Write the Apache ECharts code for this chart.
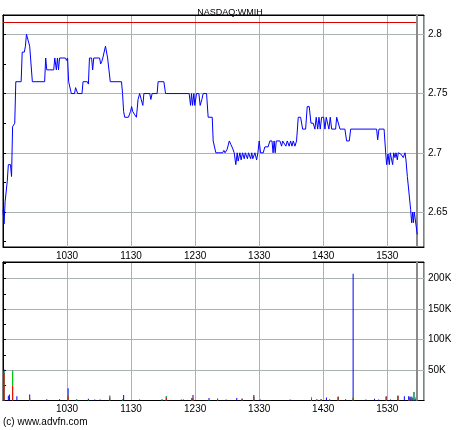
<!DOCTYPE html>
<html><head><meta charset="utf-8">
<script src="https://cdn.jsdelivr.net/npm/echarts@6/dist/echarts.min.js"></script>
<style>html,body{margin:0;padding:0;background:#fff}#c{width:460px;height:430px}</style>
</head><body><div id="c"></div>
<script>
// minutes after the 09:30 open
const priceMinutes = [
 0,1,2,4,5,7,8,9,11,12,
 17,18,20,21,22,23.5,25,26.5,27.5,39,
 40,41,47.5,48.5,50,51,52,53,58.5,59.5,
 60.5,61.5,63,64,67,68,69,70,74,75,
 79,80,81,83,84,85,90.5,91.5,92.5,93.5,
 95,96,97,98,99.5,100.5,111,112,113,114,
 117.5,119.5,120.5,121.5,123.5,125,126.5,128,129.5,131,
 132,137.5,138.5,139.7,144.4,145.3,150.7,152.3,174.4,175.7,
 176.6,177.6,178.8,179.7,181.3,183.5,184.7,186.3,187.5,190.7,
 192.2,196,196.9,198.5,199.4,205.7,206.9,208,210,212,
 213.5,215,216.6,218.1,219.4,220.3,221.9,223.1,224.4,226,
 227,229,230,232,233,234,236,237.6,238.8,240,
 241.3,243.8,245.3,248.4,250,252,253,254,255,256,
 259.4,261,262,263.8,265,266.3,268.1,269.4,270.7,271.9,
 273.5,275,276.6,278.8,280.7,283.5,285,286.9,288.5,290.6,
 292.2,293.4,294.8,296,297.2,298.5,300.4,301.6,302.8,304.1,
 305.3,306.6,307.9,311.6,312.6,314,315.7,320.3,321.9,324.4,
 325.7,350,351,352.2,357,358.5,359.4,360.7,361.9,362.8,
 364,365,366,367.2,368.2,369.4,370.3,372.6,373.5,375,
 376.6,377.5,378.8,380,381.9,382.8,383.8,384.4,385.3,386.6,
 388.1
];
const prices = [
 2.652,2.64,2.659,2.676,2.69,2.69,2.68,2.722,2.725,2.76,
 2.76,2.785,2.785,2.79,2.80,2.80,2.79,2.79,2.76,2.76,
 2.78,2.77,2.77,2.78,2.77,2.78,2.77,2.78,2.78,2.778,
 2.78,2.76,2.76,2.75,2.75,2.755,2.755,2.75,2.75,2.76,
 2.76,2.758,2.78,2.78,2.77,2.78,2.78,2.775,2.777,2.78,
 2.78,2.79,2.79,2.78,2.78,2.76,2.76,2.75,2.735,2.73,
 2.73,2.735,2.739,2.735,2.732,2.73,2.745,2.75,2.745,2.74,
 2.75,2.75,2.745,2.75,2.75,2.76,2.76,2.75,2.75,2.74,
 2.75,2.74,2.75,2.74,2.75,2.75,2.74,2.745,2.75,2.75,
 2.73,2.73,2.71,2.71,2.70,2.70,2.702,2.70,2.703,2.71,
 2.707,2.704,2.70,2.69,2.70,2.693,2.70,2.694,2.70,2.695,
 2.70,2.695,2.70,2.695,2.70,2.695,2.70,2.694,2.70,2.71,
 2.70,2.70,2.705,2.705,2.71,2.71,2.70,2.71,2.70,2.71,
 2.71,2.7056,2.71,2.71,2.7056,2.71,2.7056,2.71,2.7056,2.71,
 2.7056,2.71,2.73,2.73,2.72,2.72,2.739,2.739,2.725,2.725,
 2.72,2.73,2.72,2.73,2.72,2.73,2.73,2.72,2.73,2.73,
 2.72,2.73,2.72,2.72,2.73,2.73,2.72,2.72,2.71,2.71,
 2.72,2.72,2.711,2.72,2.72,2.70,2.69,2.699,2.69,2.70,
 2.70,2.69,2.70,2.696,2.70,2.694,2.70,2.699,2.70,2.696,
 2.70,2.694,2.68,2.68,2.652,2.641,2.65,2.641,2.65,2.65,
 2.631
];
const prevClose = 2.81;
const lastTradeMinute = 387.6;

const volMinutes = [
 1,5,6,9,13,25,41,53,61,69,
 80,86,91,100,112,113,128,149,153,167,
 169,177,178,193,201,209,219,224,235,241,
 269,289,294,298,303,306,314,321,328,340,
 348,352,359,363,370,376,380,381,382,383,
 384,385,386,387,388
];
const volRedK = [
 45,0,0,24,0,4,0,0,8,0,
 0,0,0,4,0,0,0,0,5,0,
 0,4,3,0,3,0,0,3,6,0,
 0,3,1.5,2,0,0,6,0,4,0,
 0,0,6,0,8,0,2,4,0,3,
 0,0,0,2,0
];
const volGreenK = [
 4,0,0,25,0,0,0,0,2,2,
 1,0,0,4,1.5,0,0,2,2,0,
 0,0,0,2,0,0,0,0,0,0,
 0,2,0,0,0,2,0,0,3,0,
 0,0,0,0,0,0,0,2,0,3,
 0,14,0,3,0
];
const volBlueK = [
 2,8,10,0,7,6,2,2,10,0,
 2,1.5,1.5,0,0,9,1.5,0,0,1.5,
 1.5,0,6,2,0,1.5,4,0,3,1.5,
 1.5,0,0,0,5,0,0,2,201,1.5,
 3,1.5,1,1.5,0,7,5,0,6,0,
 4,0,3,0,2
];
const xTickLabels = ['1030','1130','1230','1330','1430','1530'];
const volTickLabels = ['50K','100K','150K','200K'];

const FONT = '"Liberation Sans Narrow","Liberation Sans",Arial,sans-serif';
const GRIDC = '#aab2b2';

const priceData = priceMinutes.map((m, i) => [m, prices[i]]);
const redData = volMinutes.map((m, i) => [m, volRedK[i] * 1000]);
const greenData = volMinutes.map((m, i) => [m, (volRedK[i] + volGreenK[i]) * 1000]);
const totalData = volMinutes.map((m, i) => [m, (volRedK[i] + volGreenK[i] + volBlueK[i]) * 1000]);

const xMax = 394.4;
function xAxisBottom(gi) {
  return {
    type: 'value', gridIndex: gi, min: 0, max: xMax, interval: 60, position: 'bottom',
    axisLine: { show: true, onZero: false, lineStyle: { color: '#000', width: 1 } },
    axisTick: { show: false },
    splitLine: { show: true, lineStyle: { color: GRIDC, width: 1 } },
    axisLabel: {
      show: true, showMinLabel: false, showMaxLabel: false, margin: 4,
      fontFamily: FONT, fontSize: 10, color: '#000',
      formatter: v => xTickLabels[Math.round(v / 60) - 1] || ''
    }
  };
}
function xAxisTop(gi) {
  return {
    type: 'value', gridIndex: gi, min: 0, max: xMax, position: 'top',
    axisLine: { show: true, onZero: false, lineStyle: { color: '#000', width: 1 } },
    axisTick: { show: false }, splitLine: { show: false }, axisLabel: { show: false }
  };
}

const chart = echarts.init(document.getElementById('c'), null, { renderer: 'canvas' });
chart.setOption({
  animation: false,
  backgroundColor: '#fff',
  title: {
    text: 'NASDAQ:WMIH', left: 'center', top: 3,
    textStyle: { fontFamily: '"Liberation Sans",Arial,sans-serif', fontSize: 9, fontWeight: 'normal', color: '#000' }
  },
  graphic: [{
    type: 'text', left: 3, top: 417,
    style: { text: '(c) www.advfn.com', fill: '#000', font: '10px "Liberation Sans", Arial, sans-serif' }
  }],
  grid: [
    { left: 3, top: 15, width: 421, height: 232, show: true, borderColor: '#000', borderWidth: 1, backgroundColor: '#fff' },
    { left: 3, top: 262, width: 421, height: 138.5, show: true, borderColor: '#000', borderWidth: 1, backgroundColor: '#fff' }
  ],
  xAxis: [xAxisBottom(0), xAxisTop(0), xAxisBottom(1), xAxisTop(1)],
  yAxis: [
    { // price right
      type: 'value', gridIndex: 0, position: 'right', min: 2.6205, max: 2.8163,
      splitNumber: 4, minInterval: 0.05, maxInterval: 0.05,
      axisLine: { show: true, lineStyle: { color: '#000' } },
      axisTick: { show: true, length: 3, lineStyle: { color: '#000' } },
      minorTick: { show: true, splitNumber: 2, length: 3, lineStyle: { color: '#000' } },
      splitLine: { show: true, lineStyle: { color: GRIDC, width: 1 } },
      axisLabel: { showMinLabel: false, showMaxLabel: false, margin: 4, fontFamily: FONT, fontSize: 10, color: '#000' }
    },
    { // price left (inner ticks)
      type: 'value', gridIndex: 0, position: 'left', min: 2.6205, max: 2.8163,
      splitNumber: 4, minInterval: 0.05, maxInterval: 0.05,
      axisLine: { show: true, lineStyle: { color: '#000' } },
      axisTick: { show: true, inside: true, length: 2, lineStyle: { color: '#000' } },
      minorTick: { show: true, splitNumber: 2, length: 2, lineStyle: { color: '#000' } },
      splitLine: { show: false }, axisLabel: { show: false }
    },
    { // volume right
      type: 'value', gridIndex: 1, position: 'right', min: 0, max: 227500, interval: 50000,
      axisLine: { show: true, lineStyle: { color: '#000' } },
      axisTick: { show: true, length: 3, lineStyle: { color: '#000' } },
      minorTick: { show: true, splitNumber: 2, length: 3, lineStyle: { color: '#000' } },
      splitLine: { show: true, lineStyle: { color: GRIDC, width: 1 } },
      axisLabel: {
        showMinLabel: false, showMaxLabel: false, margin: 4, fontFamily: FONT, fontSize: 10, color: '#000',
        formatter: v => volTickLabels[Math.round(v / 50000) - 1] || ''
      }
    },
    { // volume left (inner ticks)
      type: 'value', gridIndex: 1, position: 'left', min: 0, max: 227500, interval: 50000,
      axisLine: { show: true, lineStyle: { color: '#000' } },
      axisTick: { show: true, inside: true, length: 2, lineStyle: { color: '#000' } },
      minorTick: { show: true, splitNumber: 2, length: 2, lineStyle: { color: '#000' } },
      splitLine: { show: false }, axisLabel: { show: false }
    }
  ],
  series: [
    {
      type: 'line', xAxisIndex: 0, yAxisIndex: 0, data: priceData,
      showSymbol: false, symbol: 'none', z: 5,
      lineStyle: { color: '#0000ff', width: 1 },
      markLine: {
        silent: true, symbol: 'none', animation: false, label: { show: false },
        data: [
          [{ coord: [0, prevClose], lineStyle: { color: '#dd0000', width: 1, type: 'solid' } },
           { coord: [lastTradeMinute, prevClose] }],
          { xAxis: lastTradeMinute, lineStyle: { color: '#8a8a8a', width: 2, type: 'solid' } }
        ]
      }
    },
    {
      type: 'bar', xAxisIndex: 2, yAxisIndex: 2, data: totalData, barWidth: 1, barGap: '-100%',
      itemStyle: { color: '#0000ff' },
      markLine: {
        silent: true, symbol: 'none', animation: false, label: { show: false },
        data: [{ xAxis: lastTradeMinute, lineStyle: { color: '#8a8a8a', width: 2, type: 'solid' } }]
      }
    },
    { type: 'bar', xAxisIndex: 2, yAxisIndex: 2, data: greenData, barWidth: 1, barGap: '-100%', itemStyle: { color: '#00dd00' } },
    { type: 'bar', xAxisIndex: 2, yAxisIndex: 2, data: redData, barWidth: 1, barGap: '-100%', itemStyle: { color: '#ff0000' } }
  ]
});
</script>
</body></html>
